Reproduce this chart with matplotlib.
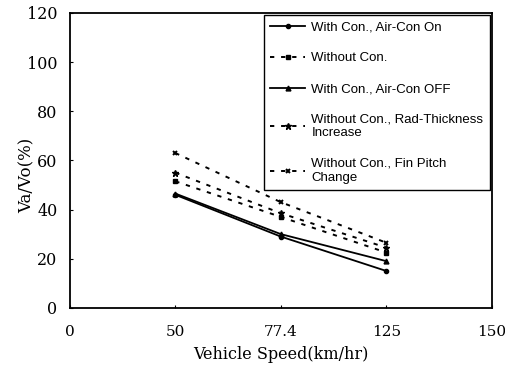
import matplotlib
matplotlib.use('Agg')
import matplotlib.pyplot as plt

# Category-style x axis: the speeds are evenly spaced in the original chart
x_tick_labels = ['0', '50', '77.4', '125', '150']
speeds = ['50', '77.4', '125']

series_names = [
    'With Con., Air-Con On',
    'Without Con.',
    'With Con., Air-Con OFF',
    'Without Con., Rad-Thickness\nIncrease',
    'Without Con., Fin Pitch\nChange',
]
air_con_on = [46, 29, 15]
without_con = [51.5, 37, 22.5]
air_con_off = [46.5, 30, 19]
rad_thickness = [55, 38.5, 24.5]
fin_pitch = [63, 43, 26.5]

y_ticks = [0, 20, 40, 60, 80, 100, 120]

serif = 'DejaVu Serif'
x_pos = [x_tick_labels.index(s) for s in speeds]

fig = plt.figure(figsize=(5.06, 3.70), dpi=100)
ax = fig.add_axes([0.138, 0.168, 0.834, 0.797])

dash = (0, (2.2, 3.5))
ax.plot(x_pos, air_con_on, color='black', lw=1.3, marker='o', ms=3,
        label=series_names[0])
ax.plot(x_pos, without_con, color='black', lw=1.4, ls=dash, marker='s', ms=3.5,
        label=series_names[1])
ax.plot(x_pos, air_con_off, color='black', lw=1.3, marker='^', ms=3.5,
        label=series_names[2])
ax.plot(x_pos, rad_thickness, color='black', lw=1.4, ls=dash, marker='*', ms=4.5,
        label=series_names[3])
ax.plot(x_pos, fin_pitch, color='black', lw=1.4, ls=dash, marker='x', ms=3.5,
        mew=1.4, label=series_names[4])

ax.set_xlim(0, len(x_tick_labels) - 1)
ax.set_ylim(0, 120)
ax.set_xticks(range(len(x_tick_labels)))
ax.set_xticklabels(x_tick_labels, family=serif, fontsize=11)
ax.set_yticks(y_ticks)
ax.set_yticklabels([str(v) for v in y_ticks], family=serif, fontsize=11.5)
ax.tick_params(axis='x', direction='in', length=2, pad=12)
ax.tick_params(axis='y', direction='in', length=2, pad=9)
for sp in ax.spines.values():
    sp.set_linewidth(1.3)

ax.set_xlabel('Vehicle Speed(km/hr)', family=serif, fontsize=11.5)
ax.set_ylabel('Va/Vo(%)', family=serif, fontsize=12)
ax.xaxis.set_label_coords(0.5, -0.13)
ax.yaxis.set_label_coords(-0.082, 0.45)

leg = ax.legend(loc='upper right', handlelength=2.6,
                labelspacing=1.4, borderaxespad=0.15, fancybox=False,
                edgecolor='black', framealpha=1, borderpad=0.5,
                handletextpad=0.5,
                prop={'family': 'Liberation Sans', 'size': 9.5})
leg.get_frame().set_linewidth(1.0)

plt.savefig('out.png', dpi=100)
plt.close(fig)
